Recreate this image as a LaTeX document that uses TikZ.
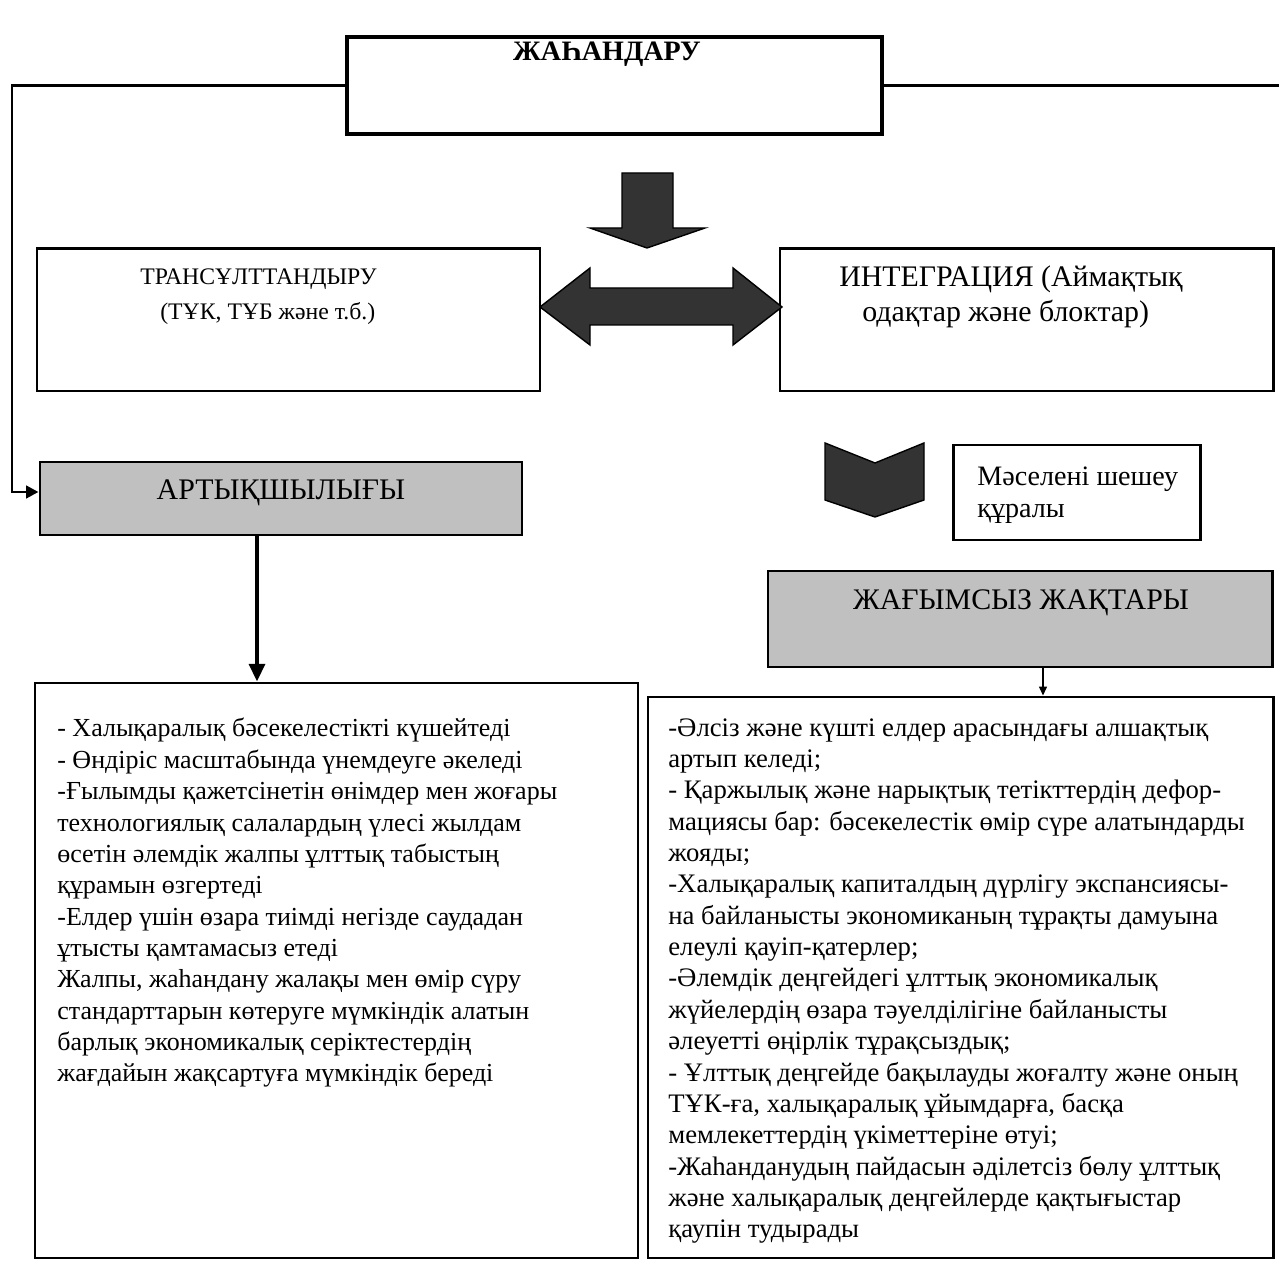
\documentclass[tikz,border=0pt]{standalone}
\usepackage{fontspec}
\setmainfont{Liberation Serif}
\usetikzlibrary{arrows.meta}

\definecolor{boxgray}{HTML}{C0C0C0}
\definecolor{arrowgray}{HTML}{333333}

\begin{document}
\begin{tikzpicture}[x=0.02cm, y=-0.02cm,
	blk/.style={draw, line width=1.7pt, inner sep=0pt},
	gblk/.style={blk, fill=boxgray},
	lbl/.style={inner sep=0pt, font=\fontsize{17}{19.8}\selectfont},
	para/.style={inner sep=0pt, align=left, anchor=north west, font=\fontsize{15}{17.85}\selectfont},
	conn/.style={line width=1.7pt},
	fat/.style={draw, line width=0.8pt, fill=arrowgray, line join=miter}]

	\useasboundingbox (0,0) rectangle (1279,1266);

	\newcommand*{\frbox}[6]{%
	\node[#6, minimum width={(#4-#2)*0.02cm}, minimum height={(#5-#3)*0.02cm}]
		(#1) at ({(#2+#4)/2},{(#3+#5)/2}) {};
	}

	% boxes
	\frbox{glob}{347}{37}{882}{134}{blk, line width=2.2pt}
	\frbox{trans}{37}{249}{540}{391}{blk}
	\frbox{integ}{780}{249}{1273}{391}{blk}
	\frbox{adv}{40}{462}{522}{535}{gblk}
	\frbox{tool}{953}{445}{1200}{540}{blk}
	\frbox{neg}{768}{571}{1272}{667}{gblk}
	\frbox{advlist}{35}{683}{638}{1258}{blk}
	\frbox{neglist}{648}{697}{1273}{1258}{blk}

	% labels
	\node[lbl, font=\bfseries\fontsize{16}{19}\selectfont] (globlbl) at (607,54) {ЖАҺАНДАРУ};
	\node[lbl, align=left, anchor=west, font=\fontsize{13.5}{19.8}\selectfont] (translbl) at (140,297)
		{ТРАНСҰЛТТАНДЫРУ\\\hspace*{0.4cm}(ТҰК, ТҰБ және т.б.)};
	\node[lbl, align=left, anchor=west] (integlbl) at (839,297)
		{ИНТЕГРАЦИЯ (Аймақтық\\\hspace*{0.46cm}одақтар және блоктар)};
	\node[lbl] (advlbl) at (281,493) {АРТЫҚШЫЛЫҒЫ};
	\node[lbl, align=left, anchor=west, font=\fontsize{16}{18.2}\selectfont] (toollbl) at (977,495)
		{Мәселені шешеу\\құралы};
	\node[lbl] (neglbl) at (1021,603) {ЖАҒЫМСЫЗ ЖАҚТАРЫ};

	\node[para, font=\fontsize{14.8}{17.85}\selectfont] (advtxt) at (57,718) {%
		- Халықаралық бәсекелестікті күшейтеді\\
		- Өндіріс масштабында үнемдеуге әкеледі\\
		-Ғылымды қажетсінетін өнімдер мен жоғары\\
		технологиялық салалардың үлесі жылдам\\
		өсетін әлемдік жалпы ұлттық табыстың\\
		құрамын өзгертеді\\
		-Елдер үшін өзара тиімді негізде саудадан\\
		ұтысты қамтамасыз етеді\\
		Жалпы, жаһандану жалақы мен өмір сүру\\
		стандарттарын көтеруге мүмкіндік алатын\\
		барлық экономикалық серіктестердің\\
		жағдайын жақсартуға мүмкіндік береді};

	\node[para, font=\fontsize{15.2}{17.85}\selectfont] (negtxt) at (668,718) {%
		-Әлсіз және күшті елдер арасындағы алшақтық\\
		артып келеді;\\
		- Қаржылық және нарықтық тетікттердің дефор-\\
		мациясы бар: бәсекелестік өмір сүре алатындарды\\
		жояды;\\
		-Халықаралық капиталдың дүрлігу экспансиясы-\\
		на байланысты экономиканың тұрақты дамуына\\
		елеулі қауіп-қатерлер;\\
		-Әлемдік деңгейдегі ұлттық экономикалық\\
		жүйелердің өзара тәуелділігіне байланысты\\
		әлеуетті өңірлік тұрақсыздық;\\
		- Ұлттық деңгейде бақылауды жоғалту және оның\\
		ТҰК-ға, халықаралық ұйымдарға, басқа\\
		мемлекеттердің үкіметтеріне өтуі;\\
		-Жаһанданудың пайдасын әділетсіз бөлу ұлттық\\
		және халықаралық деңгейлерде қақтығыстар\\
		қаупін тудырады};

	% block arrows
	\draw[fat] (622,173) -- (673,173) -- (673,228) -- (705,228) -- (647,248)
		-- (590,228) -- (622,228) -- cycle;
	\draw[fat] (540,307) -- (590,268) -- (590,288) -- (733,288) -- (733,268)
		-- (782,307) -- (733,345) -- (733,325) -- (590,325) -- (590,345) -- cycle;
	\draw[fat] (825,443) -- (875,463) -- (924,443) -- (924,500) -- (875,517)
		-- (825,500) -- cycle;

	% connectors
	\coordinate (lbot) at (12,492);
	\coordinate (rend) at (1279,86);
	\coordinate (advx) at (257,600);
	\coordinate (negx) at (1043,680);

	\draw[conn, -{Triangle[length=7pt, width=7pt]}] (glob.west) -| (lbot) -- (lbot -| adv.west);
	\draw[conn] (glob.east) -- (glob.east -| rend);
	\draw[conn, line width=2pt, -{Triangle[length=10pt, width=9pt]}]
		(adv.south -| advx) -- (advlist.north -| advx);
	\draw[line width=0.6pt, -{Triangle[length=5pt, width=4.5pt]}]
		(neg.south -| negx) -- (neglist.north -| negx);
\end{tikzpicture}
\end{document}
